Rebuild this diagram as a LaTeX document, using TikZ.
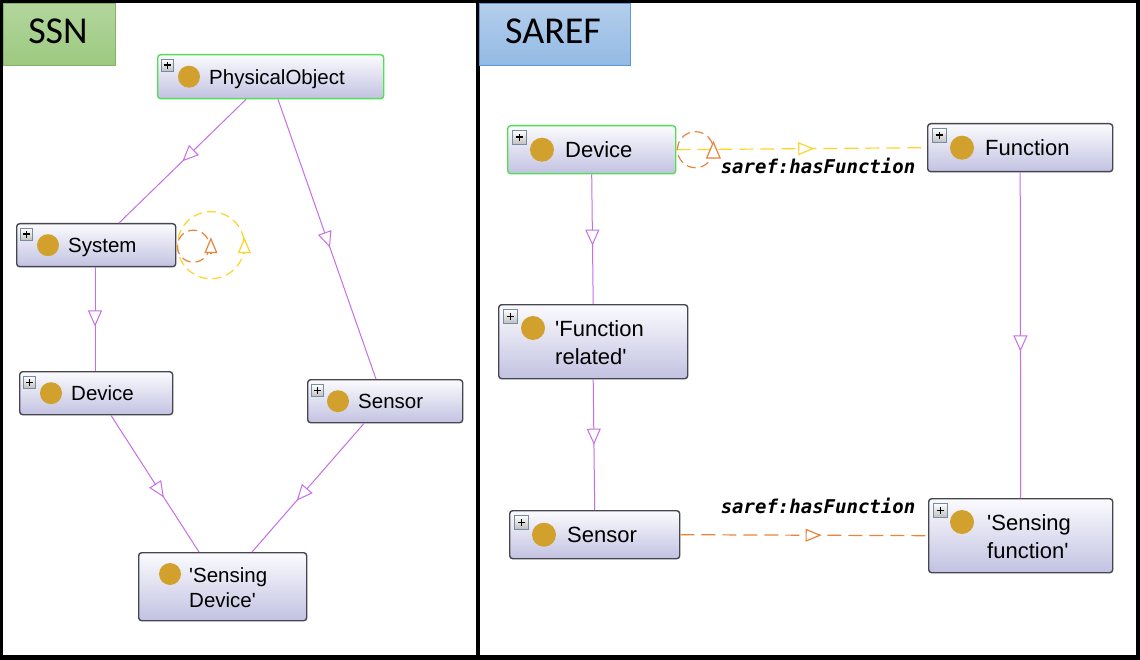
\documentclass[tikz,border=0pt]{standalone}
\usepackage{fontspec}
\setmainfont{Liberation Sans}
\newfontfamily\nodefont{Liberation Sans}
\newfontfamily\hdrfont{Carlito}
\newfontfamily\propfont{DejaVu Sans Mono}
\usetikzlibrary{arrows.meta,decorations.markings,calc}

\definecolor{isacol}{RGB}{198,110,232}
\definecolor{orangecol}{RGB}{232,132,62}
\definecolor{yellowcol}{RGB}{255,212,40}
\definecolor{goldcol}{RGB}{210,160,44}
\definecolor{boxborder}{RGB}{70,70,80}
\definecolor{greenborder}{RGB}{84,222,84}
\definecolor{boxtop}{RGB}{251,251,254}
\definecolor{boxbot}{RGB}{194,194,226}
\definecolor{ssntop}{RGB}{178,214,156}
\definecolor{ssnbot}{RGB}{156,201,128}
\definecolor{ssnborder}{RGB}{130,180,100}
\definecolor{sareftop}{RGB}{180,206,236}
\definecolor{sarefbot}{RGB}{146,186,228}
\definecolor{sarefborder}{RGB}{91,155,213}
\definecolor{plusborder}{RGB}{120,140,160}

\tikzset{
  clsbox/.style={draw=boxborder, line width=1.4pt, rounded corners=3pt,
    top color=boxtop, bottom color=boxbot, inner sep=0pt},
  owldot/.style={circle, fill=goldcol, inner sep=0pt, minimum size=#1},
  owldot/.default=22pt,
  plusbox/.style={draw=plusborder, line width=0.8pt, top color=white,
    bottom color=gray!50, inner sep=0pt, minimum size=#1,
    path picture={
      \draw[black, line width=1.8pt]
        ([xshift=-3.8pt]path picture bounding box.center) --
        ([xshift=3.8pt]path picture bounding box.center);
      \draw[black, line width=1.8pt]
        ([yshift=-3.8pt]path picture bounding box.center) --
        ([yshift=3.8pt]path picture bounding box.center);}},
  plusbox/.default=12pt,
  ssntxt/.style={inner sep=0pt, font=\nodefont\fontsize{20.5}{24.5}\selectfont,
    text height=14.8pt, text depth=0pt},
  sareftxt/.style={inner sep=0pt, font=\nodefont\fontsize{22}{28}\selectfont,
    text height=15.8pt, text depth=0pt},
  isa/.style={draw=isacol, line width=1pt, postaction=decorate,
    decoration={markings, mark=at position #1 with
      {\arrow[isacol, line width=1pt]{Triangle[open, fill=white, length=16pt, width=14pt]}}}},
  isa/.default=0.5,
  prop/.style 2 args={draw=#1, line width=1.2pt, dash pattern=on 14pt off 7pt,
    postaction=decorate,
    decoration={markings, mark=at position #2 with
      {\arrow[#1, solid, line width=1.2pt]{Triangle[open, fill=white, length=16pt, width=13pt]}}}},
  loopline/.style={draw=#1, line width=1.2pt, dash pattern=on 9pt off 5pt},
  proplabel/.style={inner sep=0pt, font=\propfont\bfseries\itshape\fontsize{19}{21}\selectfont},
  hdr/.style={draw=#1, line width=0.8pt, inner sep=0pt, anchor=north west},
  hdrtxt/.style={inner sep=0pt, font=\hdrfont\fontsize{38}{42}\selectfont}
}

% single-line class: name, left, top, width, height, text, extra style, dot offset, text offset
\newcommand\owlone[9]{%
  \node[clsbox, anchor=north west, minimum width=#4pt, minimum height=#5pt, #7] (#1) at (#2,#3) {};
  \node[plusbox=\plussz, anchor=north west] (#1-plus) at ([xshift=\plusx, yshift=-5pt]#1.north west) {};
  \node[owldot=\dotsz] (#1-dot) at ([xshift=#8pt]#1.west) {};
  \node[\txtsty, anchor=west] (#1-txt) at ([xshift=#9pt]#1.west) {#6};
}

\begin{document}
\begin{tikzpicture}[x=1pt, y=-1pt]
\useasboundingbox (0,0) rectangle (1140,660);
% frame
\fill[black] (0,0) rectangle (1140,660);
\fill[white] (3,3) rectangle (476,655);
\fill[white] (480,3) rectangle (1136,655);

% headers
\node[hdr=ssnborder, top color=ssntop, bottom color=ssnbot, minimum width=112pt, minimum height=62pt] (ssnhdr) at (3,3) {};
\node[hdrtxt] (ssnhdr-txt) at (58,31) {SSN};
\node[hdr=sarefborder, top color=sareftop, bottom color=sarefbot, minimum width=151pt, minimum height=62pt] (sarefhdr) at (479,3) {};
\node[hdrtxt] (sarefhdr-txt) at (553,31) {SAREF};

% ---------- SSN ----------
\def\plussz{12pt}\def\plusx{4pt}\def\dotsz{22pt}\def\txtsty{ssntxt}
\owlone{po}{157}{54}{226}{44}{PhysicalObject}{draw=greenborder}{32}{52}
\owlone{sys}{16}{223}{159}{43}{System}{}{32}{52}
\owlone{devA}{19}{371}{153}{43}{Device}{}{32}{52}
\owlone{senA}{307}{379}{155}{43}{Sensor}{}{31}{51}

\node[clsbox, anchor=north west, minimum width=168pt, minimum height=68pt] (sd) at (138,552) {};
\node[owldot] (sd-dot) at ([xshift=32pt, yshift=-22pt]sd.north west) {};
\node[ssntxt, text height=, text depth=, align=left, anchor=west] (sd-txt) at ([xshift=51pt, yshift=-1pt]sd.west) {'Sensing\\Device'};

\draw[isa=0.5] ([xshift=89pt]po.south west) -- ([xshift=103pt]sys.north west);
\draw[isa=0.53] ([xshift=121pt]po.south west) -- ([xshift=69pt]senA.north west);
\draw[isa=0.57] ([xshift=79pt]sys.south west) -- ([xshift=76pt]devA.north west);
\draw[isa=0.6] ([xshift=92pt]devA.south west) -- ([xshift=61pt]sd.north west);
\draw[isa=0.6] ([xshift=57pt]senA.south west) -- ([xshift=114pt]sd.north west);

% self loops on System
\draw[loopline=yellowcol] ($(sys.east)+(34.5,0)$) circle[radius=33.5];
\draw[loopline=orangecol] ($(sys.east)+(17,1)$) circle[radius=16];
\draw[yellowcol, line width=1.2pt, -{Triangle[open, fill=white, length=16pt, width=13pt]}]
  ($(sys.east)+(68,8)$) -- ++(0,-16);
\draw[orangecol, line width=1.2pt, -{Triangle[open, fill=white, length=16pt, width=13pt]}]
  ($(sys.east)+(34.5,8)$) -- ++(0,-16);

% ---------- SAREF ----------
\def\plussz{14pt}\def\plusx{5pt}\def\dotsz{24pt}\def\txtsty{sareftxt}
\owlone{devB}{507}{125}{168}{48}{Device}{draw=greenborder}{35}{58}
\owlone{fn}{927}{123}{185}{48}{Function}{}{35}{58}
\owlone{senB}{509}{510}{170}{48}{Sensor}{}{35}{58}

\node[clsbox, anchor=north west, minimum width=189pt, minimum height=74pt] (fr) at (498,304) {};
\node[plusbox=14pt, anchor=north west] (fr-plus) at ([xshift=5pt, yshift=-5pt]fr.north west) {};
\node[owldot=24pt] (fr-dot) at ([xshift=35pt, yshift=-24pt]fr.north west) {};
\node[sareftxt, text height=, text depth=, align=left, anchor=west] (fr-txt) at ([xshift=57pt, yshift=-1pt]fr.west) {'Function\\related'};

\node[clsbox, anchor=north west, minimum width=184pt, minimum height=74pt] (sf) at (928,498) {};
\node[plusbox=14pt, anchor=north west] (sf-plus) at ([xshift=5pt, yshift=-5pt]sf.north west) {};
\node[owldot=24pt] (sf-dot) at ([xshift=34pt, yshift=-24pt]sf.north west) {};
\node[sareftxt, text height=, text depth=, align=left, anchor=west] (sf-txt) at ([xshift=59pt, yshift=-1pt]sf.west) {'Sensing\\function'};

\draw[isa=0.55] (devB.south) -- (fr.north);
\draw[isa=0.5] (fr.south) -- (senB.north);
\draw[isa=0.55] (fn.south) -- (sf.north);

% object properties
\draw[prop={yellowcol}{0.55}] (devB.east) -- (fn.west);
\node[proplabel] (lblA) at (818,166) {saref:hasFunction};
\draw[prop={orangecol}{0.57}] (senB.east) -- (sf.west);
\node[proplabel] (lblB) at (818,506) {saref:hasFunction};

% self loop on SAREF Device
\draw[loopline=orangecol] ($(devB.east)+(19,0)$) circle[radius=18];
\draw[orangecol, line width=1.2pt, -{Triangle[open, fill=white, length=18pt, width=15pt]}]
  ($(devB.east)+(37,9)$) -- ++(0,-18);
\end{tikzpicture}
\end{document}
